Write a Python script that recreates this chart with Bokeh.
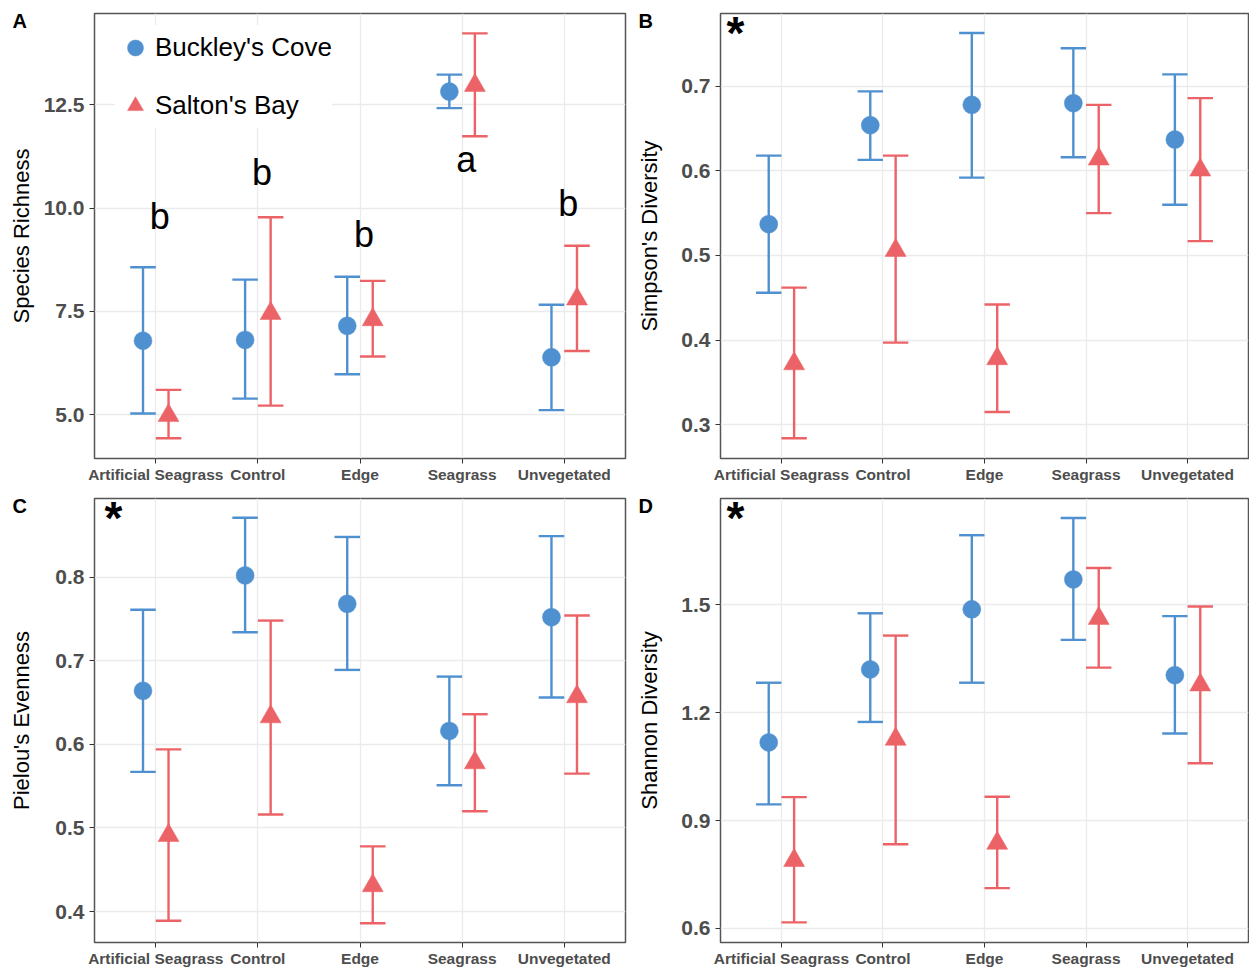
from bokeh.plotting import figure
from bokeh.models import FactorRange, Range1d, FixedTicker, Label, Title, ColumnDataSource, NumeralTickFormatter
from bokeh.transform import dodge
from bokeh.layouts import gridplot
from bokeh.core.properties import value
from bokeh.embed import file_html
from bokeh.resources import INLINE

habitats = ["Artificial Seagrass", "Control", "Edge", "Seagrass", "Unvegetated"]
site_names = ["Buckley's Cove", "Salton's Bay"]

# Panel A - Species Richness
rich_bc = [6.79, 6.81, 7.15, 12.82, 6.39]
rich_bc_lo = [5.03, 5.39, 5.98, 12.42, 5.11]
rich_bc_hi = [8.57, 8.27, 8.34, 13.23, 7.66]
rich_sb = [4.98, 7.45, 7.30, 12.97, 7.80]
rich_sb_lo = [4.43, 5.22, 6.41, 11.74, 6.54]
rich_sb_hi = [5.60, 9.78, 8.24, 14.23, 9.09]
rich_letters = ["b", "b", "b", "a", "b"]
rich_letter_y = [9.80, 10.86, 9.36, 11.18, 10.10]

# Panel B - Simpson's Diversity
simp_bc = [0.537, 0.654, 0.678, 0.680, 0.637]
simp_bc_lo = [0.456, 0.613, 0.592, 0.616, 0.560]
simp_bc_hi = [0.618, 0.694, 0.763, 0.745, 0.714]
simp_sb = [0.372, 0.506, 0.378, 0.614, 0.601]
simp_sb_lo = [0.284, 0.397, 0.315, 0.550, 0.517]
simp_sb_hi = [0.462, 0.618, 0.442, 0.678, 0.686]

# Panel C - Pielou's Evenness
piel_bc = [0.664, 0.802, 0.768, 0.616, 0.752]
piel_bc_lo = [0.567, 0.734, 0.689, 0.551, 0.656]
piel_bc_hi = [0.761, 0.871, 0.848, 0.681, 0.849]
piel_sb = [0.491, 0.633, 0.431, 0.578, 0.657]
piel_sb_lo = [0.389, 0.516, 0.386, 0.520, 0.565]
piel_sb_hi = [0.594, 0.748, 0.478, 0.636, 0.754]

# Panel D - Shannon Diversity
shan_bc = [1.117, 1.320, 1.487, 1.570, 1.304]
shan_bc_lo = [0.945, 1.174, 1.283, 1.402, 1.142]
shan_bc_hi = [1.283, 1.476, 1.693, 1.741, 1.468]
shan_sb = [0.789, 1.126, 0.837, 1.462, 1.277]
shan_sb_lo = [0.617, 0.834, 0.712, 1.325, 1.059]
shan_sb_hi = [0.965, 1.414, 0.966, 1.602, 1.495]

BLUE = "#4F90D0"
RED = "#EC6367"
FONT = "Liberation Sans"


def make_panel(letter, ylabel, yrange, yticks, bc, bc_lo, bc_hi, sb, sb_lo, sb_hi,
               fw, fh, bl, br, bt, bb, title_standoff, star_x=None, legend=False,
               letters=None, letter_y=None):
    p = figure(x_range=FactorRange(*habitats, range_padding=0.1, range_padding_units="absolute"),
               y_range=Range1d(*yrange), frame_width=fw, frame_height=fh,
               min_border_left=bl, min_border_right=br, min_border_top=bt, min_border_bottom=bb,
               output_backend="svg", toolbar_location=None)
    p.background_fill_color = "white"
    p.border_fill_color = "white"
    p.outline_line_color = "#555555"
    p.outline_line_width = 1.5

    p.xgrid.grid_line_color = "#EBEBEB"
    p.ygrid.grid_line_color = "#EBEBEB"
    p.xgrid.grid_line_width = 1.3
    p.ygrid.grid_line_width = 1.3

    p.yaxis.ticker = FixedTicker(ticks=yticks)
    p.yaxis.formatter = NumeralTickFormatter(format="0.0")
    for ax in (p.xaxis[0], p.yaxis[0]):
        ax.axis_line_color = None
        ax.major_tick_out = 5
        ax.major_tick_in = 0
        ax.minor_tick_out = 0
        ax.minor_tick_in = 0
        ax.major_tick_line_color = "#333333"
        ax.major_label_text_color = "#4D4D4D"
        ax.major_label_text_font = FONT
        ax.major_label_text_font_style = "bold"
    p.xaxis.major_label_text_font_size = "15.5px"
    p.xaxis.major_label_standoff = 2
    p.yaxis.major_label_text_font_size = "21px"
    p.yaxis.major_label_standoff = 5
    p.yaxis.axis_label = ylabel
    p.yaxis.axis_label_text_font = FONT
    p.yaxis.axis_label_text_font_size = "22px"
    p.yaxis.axis_label_text_font_style = "normal"
    p.yaxis.axis_label_text_color = "black"
    p.yaxis.axis_label_standoff = title_standoff

    for vals, lo, hi, color, off, marker, size, name in (
        (bc, bc_lo, bc_hi, BLUE, -0.125, "circle", 18, site_names[0]),
        (sb, sb_lo, sb_hi, RED, 0.125, "triangle", 21, site_names[1]),
    ):
        src = ColumnDataSource(dict(hab=habitats, m=vals, lo=lo, hi=hi))
        xc = dodge("hab", off, range=p.x_range)
        xl = dodge("hab", off - 0.125, range=p.x_range)
        xr = dodge("hab", off + 0.125, range=p.x_range)
        p.segment(x0=xc, x1=xc, y0="lo", y1="hi", source=src, line_color=color, line_width=2.4)
        p.segment(x0=xl, x1=xr, y0="lo", y1="lo", source=src, line_color=color, line_width=2.4)
        p.segment(x0=xl, x1=xr, y0="hi", y1="hi", source=src, line_color=color, line_width=2.4)
        kw = dict(legend_label=name) if legend else {}
        p.scatter(x=xc, y="m", source=src, marker=marker, size=size,
                  fill_color=color, line_color=color, line_width=0.5, **kw)

    if letters is not None:
        lsrc = ColumnDataSource(dict(hab=habitats, ly=letter_y, t=letters))
        p.text(x=dodge("hab", 0.04, range=p.x_range), y="ly", text="t", source=lsrc,
               text_font=value(FONT), text_font_size="36px", text_align="center",
               text_baseline="middle", text_color="black")

    p.add_layout(Title(text=letter, align="left", offset=-82, standoff=-36,
                       vertical_align="bottom", text_font=FONT, text_font_size="20px",
                       text_font_style="bold", text_color="black"), "above")
    if star_x is not None:
        p.add_layout(Label(x=star_x, y=fh - 19, x_units="screen", y_units="screen", text="*",
                           text_font=FONT, text_font_size="46px", text_font_style="bold",
                           text_baseline="alphabetic", text_align="center", text_color="black"))

    if legend:
        lg = p.legend[0]
        lg.location = (21, fh - 114.5)
        lg.margin = 0
        lg.padding = 10
        lg.glyph_width = 40
        lg.glyph_height = 45
        lg.spacing = 13
        lg.label_standoff = 0
        lg.label_text_font = FONT
        lg.label_text_font_size = "26px"
        lg.label_text_color = "black"
        lg.border_line_color = None
        lg.background_fill_color = "white"
        lg.background_fill_alpha = 1.0
    return p


pA = make_panel("A", "Species Richness", (3.94, 14.71), [5.0, 7.5, 10.0, 12.5],
                rich_bc, rich_bc_lo, rich_bc_hi, rich_sb, rich_sb_lo, rich_sb_hi,
                531, 445, 94, 9, 13, 32, 7, legend=True, letters=rich_letters, letter_y=rich_letter_y)
pB = make_panel("B", "Simpson's Diversity", (0.260, 0.786), [0.3, 0.4, 0.5, 0.6, 0.7],
                simp_bc, simp_bc_lo, simp_bc_hi, simp_sb, simp_sb_lo, simp_sb_hi,
                528, 445, 86, 1, 13, 32, 16, star_x=15)
pC = make_panel("C", "Pielou's Evenness", (0.363, 0.894), [0.4, 0.5, 0.6, 0.7, 0.8],
                piel_bc, piel_bc_lo, piel_bc_hi, piel_sb, piel_sb_lo, piel_sb_hi,
                531, 444, 94, 9, 8, 24, 18, star_x=19)
pD = make_panel("D", "Shannon Diversity", (0.561, 1.795), [0.6, 0.9, 1.2, 1.5],
                shan_bc, shan_bc_lo, shan_bc_hi, shan_sb, shan_sb_lo, shan_sb_hi,
                528, 444, 86, 1, 8, 24, 16, star_x=15)

grid = gridplot([[pA, pB], [pC, pD]], toolbar_location=None)

open("out.html", "w").write(file_html(grid, INLINE))
